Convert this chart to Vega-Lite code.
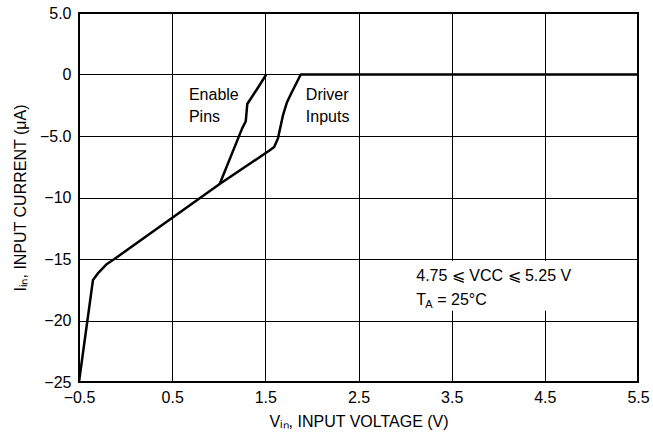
{
  "$schema": "https://vega.github.io/schema/vega-lite/v6.json",
  "width": 559,
  "height": 369,
  "autosize": {"type": "none"},
  "padding": {"left": 79, "top": 13, "right": 15, "bottom": 61},
  "background": "white",
  "config": {
    "font": "Liberation Sans",
    "view": {"stroke": "black", "strokeWidth": 2},
    "axis": {
      "grid": true, "gridColor": "black", "gridOpacity": 1, "gridWidth": 1,
      "ticks": false, "domain": false, "labelFlush": false,
      "labelFont": "Liberation Sans", "labelFontSize": 16, "labelColor": "black",
      "titleFont": "Liberation Sans", "titleFontSize": 16, "titleFontWeight": "normal", "titleColor": "black"
    }
  },
  "layer": [
    {
      "data": {"values": [{"x1": 3.08, "x2": 5.14, "y1": -15.15, "y2": -19.2}]},
      "mark": {"type": "rect", "fill": "white"},
      "encoding": {
        "x": {"field": "x1", "type": "quantitative", "scale": {"domain": [-0.5, 5.5], "nice": false, "zero": false},
          "axis": {"values": [-0.5, 0.5, 1.5, 2.5, 3.5, 4.5, 5.5], "labelPadding": 7,
            "labelExpr": "datum.value < 0 ? '−' + format(abs(datum.value), '.1f') : format(datum.value, '.1f')",
            "title": "Vᵢₙ, INPUT VOLTAGE (V)", "titlePadding": 8}},
        "x2": {"field": "x2"},
        "y": {"field": "y1", "type": "quantitative", "scale": {"domain": [-25, 5], "nice": false, "zero": false},
          "axis": {"values": [-25, -20, -15, -10, -5, 0, 5], "labelPadding": 8,
            "labelExpr": "datum.value == 5 ? '5.0' : datum.value == 0 ? '0' : datum.value == -5 ? '−5.0' : '−' + abs(datum.value)",
            "title": "Iᵢₙ, INPUT CURRENT (μA)", "titlePadding": 11}},
        "y2": {"field": "y2"}
      }
    },
    {
      "data": {"values": [
        {"s": "common", "x": -0.5, "y": -25},
        {"s": "common", "x": -0.35, "y": -16.7},
        {"s": "common", "x": -0.29, "y": -16.1},
        {"s": "common", "x": -0.2, "y": -15.4},
        {"s": "common", "x": -0.12, "y": -15.0},
        {"s": "common", "x": 1.01, "y": -8.9},
        {"s": "enable", "x": 1.01, "y": -8.9},
        {"s": "enable", "x": 1.25, "y": -4.4},
        {"s": "enable", "x": 1.29, "y": -3.8},
        {"s": "enable", "x": 1.306, "y": -2.4},
        {"s": "enable", "x": 1.41, "y": -1.2},
        {"s": "enable", "x": 1.51, "y": 0},
        {"s": "driver", "x": 1.01, "y": -8.9},
        {"s": "driver", "x": 1.54, "y": -6.2},
        {"s": "driver", "x": 1.595, "y": -5.9},
        {"s": "driver", "x": 1.635, "y": -5.2},
        {"s": "driver", "x": 1.69, "y": -3.3},
        {"s": "driver", "x": 1.73, "y": -2.3},
        {"s": "driver", "x": 1.78, "y": -1.5},
        {"s": "driver", "x": 1.88, "y": 0},
        {"s": "driver", "x": 5.5, "y": 0}
      ]},
      "mark": {"type": "line", "color": "black", "strokeWidth": 2.5, "strokeJoin": "round"},
      "encoding": {
        "x": {"field": "x", "type": "quantitative"},
        "y": {"field": "y", "type": "quantitative"},
        "detail": {"field": "s"}
      }
    },
    {
      "data": {"values": [
        {"x": 0.68, "y": -1.65, "t": "Enable"},
        {"x": 0.68, "y": -3.45, "t": "Pins"},
        {"x": 1.935, "y": -1.65, "t": "Driver"},
        {"x": 1.935, "y": -3.45, "t": "Inputs"},
        {"x": 3.12, "y": -16.4, "t": "4.75 ⩽ VCC ⩽ 5.25 V"},
        {"x": 3.12, "y": -18.3, "t": "T"}
      ]},
      "mark": {"type": "text", "align": "left", "baseline": "middle", "fontSize": 16, "font": "Liberation Sans", "color": "black"},
      "encoding": {
        "x": {"field": "x", "type": "quantitative"},
        "y": {"field": "y", "type": "quantitative"},
        "text": {"field": "t"}
      }
    },
    {
      "data": {"values": [{"x": 3.12, "y": -18.3, "t": "A"}]},
      "mark": {"type": "text", "align": "left", "baseline": "middle", "fontSize": 11, "dx": 9, "dy": 5, "font": "Liberation Sans", "color": "black"},
      "encoding": {
        "x": {"field": "x", "type": "quantitative"},
        "y": {"field": "y", "type": "quantitative"},
        "text": {"field": "t"}
      }
    },
    {
      "data": {"values": [{"x": 3.12, "y": -18.3, "t": "= 25°C"}]},
      "mark": {"type": "text", "align": "left", "baseline": "middle", "fontSize": 16, "dx": 21, "font": "Liberation Sans", "color": "black"},
      "encoding": {
        "x": {"field": "x", "type": "quantitative"},
        "y": {"field": "y", "type": "quantitative"},
        "text": {"field": "t"}
      }
    }
  ]
}
